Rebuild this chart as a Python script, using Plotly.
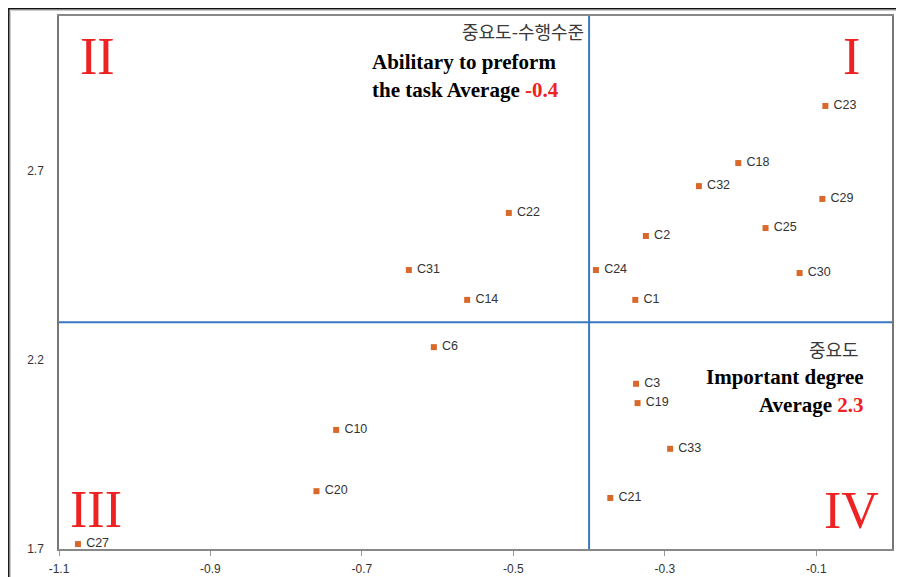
import plotly.graph_objects as go

labels = ["C23", "C18", "C32", "C29", "C22", "C2", "C25", "C31", "C24", "C30",
          "C14", "C1", "C6", "C3", "C19", "C10", "C33", "C20", "C21", "C27"]
x_vals = [-0.088, -0.203, -0.255, -0.092, -0.506, -0.325, -0.167, -0.638, -0.391, -0.122,
          -0.561, -0.339, -0.605, -0.338, -0.336, -0.734, -0.293, -0.760, -0.372, -1.075]
y_vals = [2.872, 2.721, 2.660, 2.626, 2.589, 2.528, 2.549, 2.438, 2.438, 2.430,
          2.359, 2.359, 2.234, 2.137, 2.086, 2.015, 1.965, 1.853, 1.835, 1.713]

x_mean = -0.4
y_mean = 2.3
x_ticks = [-1.1, -0.9, -0.7, -0.5, -0.3, -0.1]
y_ticks = [1.7, 2.2, 2.7]

fig = go.Figure()
fig.add_trace(go.Scatter(
    x=x_vals, y=y_vals, mode="markers+text", text=["\u00a0" + s for s in labels],
    textposition="middle right",
    marker=dict(symbol="square", size=6, color="#D9692A"),
    textfont=dict(family="Liberation Sans, Arial", size=12.5, color="#333333"),
    cliponaxis=False, showlegend=False,
))

blue = "#3A78C0"
fig.add_shape(type="line", xref="x", yref="paper", x0=x_mean, x1=x_mean, y0=0, y1=1,
              line=dict(color=blue, width=2))
fig.add_shape(type="line", xref="paper", yref="y", x0=0, x1=1,
              y0=y_mean, y1=y_mean,
              line=dict(color=blue, width=2))

# outer chart frame (page offset of 8px handled by margins)
fig.add_shape(type="rect", xref="paper", yref="paper",
              x0=-50.2 / 833, x1=1 + 40 / 833, y0=-0.2, y1=1 + 7.2 / 533,
              line=dict(color="#111111", width=1.5), layer="below")
fig.add_shape(type="rect", xref="paper", yref="paper",
              x0=-48.5 / 833, x1=1 + 40 / 833, y0=-0.2, y1=1 + 5.5 / 533,
              line=dict(color="#CCCCCC", width=1), layer="below")

red = "#EE2222"
serif_b = "Liberation Serif, Times New Roman, serif"
kr = "Noto Sans CJK KR"

def py(p):
    return (549 - p) / 533

def px(p):
    return (p - 59) / 833

ann = []
ann.append(dict(text="중요도-수행수준", x=px(586), y=py(31), xanchor="right", yanchor="middle",
                font=dict(family=kr, size=18, color="#3a3a3a")))
ann.append(dict(text="<b>Abilitary to preform</b>", x=px(370), y=py(62), xanchor="left", yanchor="middle",
                font=dict(family=serif_b, size=21, color="#000000")))
ann.append(dict(text="<b>the task Average </b><span style='color:%s'><b>-0.4</b></span>" % red,
                x=px(370), y=py(90), xanchor="left", yanchor="middle",
                font=dict(family=serif_b, size=21, color="#000000")))
ann.append(dict(text="중요도", x=px(861), y=py(349), xanchor="right", yanchor="middle",
                font=dict(family=kr, size=18, color="#3a3a3a")))
ann.append(dict(text="<b>Important degree</b>", x=px(866), y=py(377), xanchor="right", yanchor="middle",
                font=dict(family=serif_b, size=21, color="#000000")))
ann.append(dict(text="<b>Average </b><span style='color:%s'><b>2.3</b></span>" % red,
                x=px(866), y=py(405), xanchor="right", yanchor="middle",
                font=dict(family=serif_b, size=21, color="#000000")))
for t, cx, cy in [("II", 97, 56), ("I", 851, 56), ("III", 96, 509), ("IV", 851, 510)]:
    ann.append(dict(text=t, x=px(cx), y=py(cy), xanchor="center", yanchor="middle",
                    font=dict(family="Liberation Serif, Times New Roman, serif", size=52, color=red)))
for a in ann:
    a.update(xref="paper", yref="paper", showarrow=False)

fig.update_layout(
    width=896, height=569,
    margin=dict(l=51, r=12, t=8, b=28, autoexpand=False),
    paper_bgcolor="white", plot_bgcolor="white",
    annotations=ann,
    xaxis=dict(range=[-1.1, 0], tickvals=x_ticks, ticktext=[str(v) for v in x_ticks],
               automargin=False,
               showgrid=False, zeroline=False, showline=True, mirror=True,
               linecolor="#888888", linewidth=1.5, ticks="outside", ticklen=5,
               tickcolor="#999999", ticklabelstandoff=3,
               tickfont=dict(family="Liberation Sans, Arial", size=12, color="#333333")),
    yaxis=dict(range=[1.7, 3.11], tickvals=y_ticks, ticktext=[str(v) for v in y_ticks],
               automargin=False,
               showgrid=False, zeroline=False, showline=True, mirror=True,
               linecolor="#777777", linewidth=1.5, ticks="outside", ticklen=11,
               tickcolor="rgba(0,0,0,0)",
               tickfont=dict(family="Liberation Sans, Arial", size=12, color="#333333")),
)

fig.write_html("out.html")
